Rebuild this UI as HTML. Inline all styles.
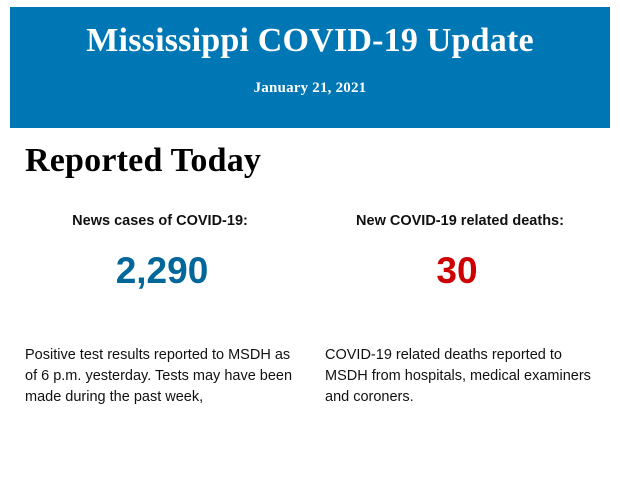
<!DOCTYPE html>
<html><head><style>
body{margin:0;width:620px;height:483px;background:#fff;position:relative;overflow:hidden;font-family:"Liberation Sans",Arial,sans-serif;}
.hdr{position:absolute;left:10px;top:7px;width:600px;height:121px;background:#0077b5;color:#fff;font-family:"Liberation Serif",serif;font-weight:bold;text-align:center;}
.t{position:absolute;left:0;right:0;top:15px;font-size:34px;letter-spacing:0.2px;}
.d{position:absolute;left:0;right:0;top:73px;font-size:15px;letter-spacing:0.2px;}
.rt{position:absolute;left:25px;top:142px;font-family:"Liberation Serif",serif;font-weight:bold;font-size:34px;letter-spacing:0.2px;color:#000;}
.lab{position:absolute;top:213px;font-weight:bold;font-size:14.5px;color:#111;text-align:center;width:290px;}
.num{position:absolute;top:250px;font-weight:bold;font-size:37px;text-align:center;width:290px;}
.p{position:absolute;top:345px;font-size:14.5px;line-height:21px;color:#111;white-space:nowrap;}
</style></head><body>
<div class="hdr"><div class="t">Mississippi COVID-19 Update</div><div class="d">January 21, 2021</div></div>
<div class="rt">Reported Today</div>
<div class="lab" style="left:15px">News cases of COVID-19:</div>
<div class="lab" style="left:315px">New COVID-19 related deaths:</div>
<div class="num" style="left:17px;color:#00679a">2,290</div>
<div class="num" style="left:312px;color:#cc0000">30</div>
<div class="p" style="left:25px">Positive test results reported to MSDH as<br>of 6 p.m. yesterday. Tests may have been<br>made during the past week,</div>
<div class="p" style="left:325px">COVID-19 related deaths reported to<br>MSDH from hospitals, medical examiners<br>and coroners.</div>
</body></html>
